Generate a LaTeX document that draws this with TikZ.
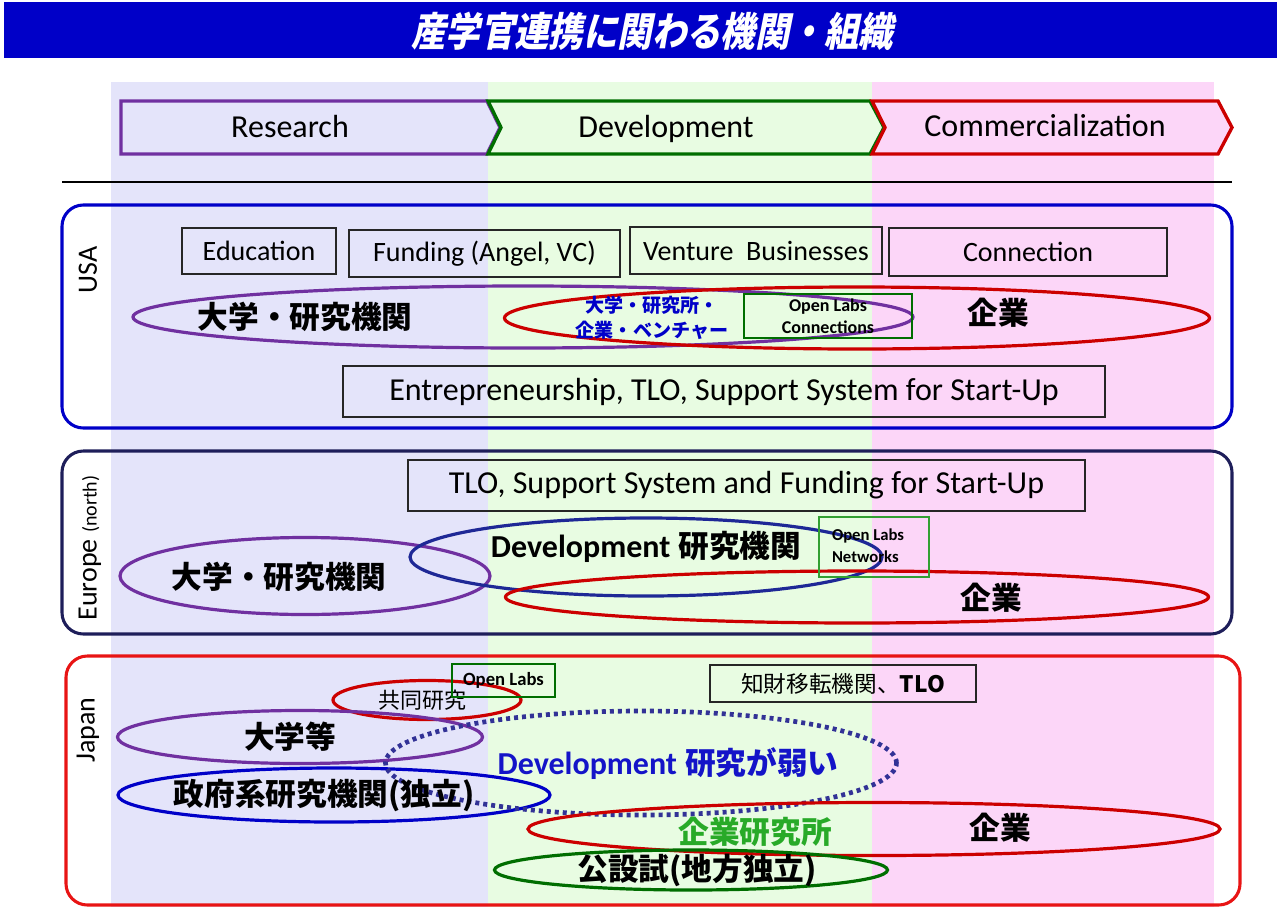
\documentclass[tikz,border=0pt]{standalone}
\usepackage{fontspec}
\setmainfont{Carlito}
\newfontfamily\jp{Noto Sans CJK JP}
\newfontfamily\jpt{Noto Sans CJK JP}[FakeSlant=0.2,FakeStretch=0.86]
\usetikzlibrary{shapes.geometric}

\definecolor{lav}{RGB}{228,228,250}
\definecolor{lgreen}{RGB}{232,252,226}
\definecolor{lpink}{RGB}{252,214,248}
\definecolor{titleblue}{RGB}{0,0,200}
\definecolor{purp}{RGB}{112,48,160}
\definecolor{dgreen}{RGB}{0,110,0}
\definecolor{cred}{RGB}{204,0,0}
\definecolor{jred}{RGB}{232,20,20}
\definecolor{ublue}{RGB}{0,0,200}
\definecolor{navy}{RGB}{30,30,90}
\definecolor{eblue}{RGB}{30,40,150}
\definecolor{dotc}{RGB}{50,50,150}
\definecolor{okgreen}{RGB}{50,160,50}
\definecolor{txtgreen}{RGB}{40,170,40}
\definecolor{txtblue}{RGB}{20,20,200}

\begin{document}
\begin{tikzpicture}[x=0.75pt,y=-0.75pt,
  every node/.style={inner sep=0pt, outer sep=0pt},
  region/.style={draw, line width=2.3pt, rounded corners=16pt},
  ell/.style={ellipse, draw, line width=2.4pt, inner sep=0pt},
  tbox/.style={draw=black!85, line width=0.8pt, rectangle, inner sep=0pt, align=center, font=\fontsize{21}{25}\selectfont},
  chev/.style={line width=2.5pt, line join=miter},
  chevtxt/.style={anchor=base, font=\fontsize{24}{28}\selectfont},
  sidelbl/.style={rotate=90, font=\fontsize{21}{25}\selectfont},
  jpb/.style={font=\jp\bfseries\fontsize{23}{27}\selectfont},
  openlab/.style={rectangle, line width=2.2pt, align=center, font=\bfseries\fontsize{13.5}{16.5}\selectfont}
]
\useasboundingbox (0,0) rectangle (1277,907);

% background columns
\fill[lav] (111,82) rectangle (488,907);
\fill[lgreen] (488,82) rectangle (872,907);
\fill[lpink] (872,82) rectangle (1214,907);

% title
\fill[titleblue] (4,2) rectangle (1277,58);
\node[text=white, font=\jpt\bfseries\fontsize{30}{34}\selectfont] (title) at (652,31) {産学官連携に関わる機関・組織};

% chevrons
\draw[chev, draw=purp, fill=lav] (121,101) -- (487,101) -- (500,127.5) -- (487,154) -- (121,154) -- cycle;
\draw[chev, draw=dgreen, fill=lgreen] (488,101) -- (870,101) -- (884,127.5) -- (870,154) -- (488,154) -- (501,127.5) -- cycle;
\draw[chev, draw=cred, fill=lpink] (872,101) -- (1218,101) -- (1232,127.5) -- (1218,154) -- (872,154) -- (885,127.5) -- cycle;
\node[chevtxt] (research) at (290,137) {Research};
\node[chevtxt] (development) at (666,137) {Development};
\node[chevtxt] (commerc) at (1045,136) {Commercialization};

% separator
\coordinate (sepL) at (62,182);
\coordinate (sepR) at (1232,182);
\draw[line width=1.3pt] (sepL) -- (sepR);

% ===== USA =====
\draw[region, draw=ublue] (62,205) rectangle (1232,428);
\node[sidelbl] (usa) at (88,270) {USA};
\node[tbox, minimum width=115.5pt, minimum height=34.5pt] (edu) at (259,251) {Education};
\node[tbox, minimum width=203.25pt, minimum height=35.25pt] (fund) at (484.5,253.5) {Funding (Angel, VC)};
\node[tbox, minimum width=189pt, minimum height=35.25pt] (venture) at (756,250.5) {Venture\ \ Businesses};
\node[tbox, minimum width=208.5pt, minimum height=36pt] (conn) at (1028,252) {Connection};
\node[ell, draw=purp, minimum width=585pt, minimum height=46.5pt] (usaUniv) at (523,317) {};
\node[ell, draw=cred, minimum width=528.75pt, minimum height=46.5pt] (usaCorp) at (857,318) {};
\node[jpb] (usaUnivT) at (305,317) {大学・研究機関};
\node[jpb] (usaCorpT) at (998,313) {企業};
\node[align=center, text=ublue, font=\jp\bfseries\fontsize{14.3}{18.75}\selectfont] (usaMix) at (652,318) {大学・研究所・\\企業・ベンチャー};
\node[openlab, draw=dgreen, minimum width=126pt, minimum height=33pt] (usaOpen) at (828,316) {Open Labs\\Connections};
\node[tbox, minimum width=571.5pt, minimum height=38.25pt, font=\fontsize{24}{28}\selectfont] (usaEnt) at (724,391.5) {Entrepreneurship, TLO, Support System for Start-Up};

% ===== Europe =====
\draw[region, draw=navy] (62,451) rectangle (1232,634);
\node[sidelbl] (europe) at (90,548) {Europe {\fontsize{15}{17}\selectfont (north)}};
\node[tbox, minimum width=507.75pt, minimum height=38.25pt, font=\fontsize{24}{28}\selectfont] (euTLO) at (746.5,485.5) {TLO, Support System and Funding for Start-Up};
\node[ell, draw=purp, minimum width=277.5pt, minimum height=57.75pt] (euUniv) at (305,576) {};
\node[ell, draw=eblue, minimum width=354pt, minimum height=58.5pt] (euDev) at (646,557) {};
\node[ell, draw=cred, minimum width=527.25pt, minimum height=39pt] (euCorp) at (857,597) {};
\node[jpb] (euUnivT) at (279,577) {大学・研究機関};
\node[jpb] (euDevT) at (646,547) {{\rmfamily\bfseries\fontsize{24}{27}\selectfont Development}\hspace{6pt}研究機関};
\node[jpb] (euCorpT) at (991,598) {企業};
\node[rectangle, draw=okgreen, line width=1.5pt, minimum width=82.5pt, minimum height=45pt] (euOpen) at (874,547) {};
\node[anchor=west, align=left, font=\bfseries\fontsize{12.5}{16.5}\selectfont] (euOpenT) at (832,546) {Open Labs\\Networks};

% ===== Japan =====
\draw[region, draw=jred] (66,656) rectangle (1240,905);
\node[sidelbl] (japan) at (88,730) {Japan};
\node[ell, draw=cred, minimum width=141pt, minimum height=29.25pt] (jpJoint) at (427,700) {};
\node[font=\jp\fontsize{16.5}{20}\selectfont] (jpJointT) at (422,700) {共同研究};
\node[openlab, draw=dgreen, minimum width=77.25pt, minimum height=24.75pt, font=\bfseries\fontsize{14}{16}\selectfont] (jpOpen) at (503.5,680.5) {Open Labs};
\node[tbox, minimum width=199.5pt, minimum height=27.75pt, font=\jp\fontsize{17}{20}\selectfont] (jpTLO) at (843,683.5) {知財移転機関、{\bfseries TLO}};
\node[ell, draw=purp, minimum width=273.75pt, minimum height=39.75pt] (jpUniv) at (300,737) {};
\node[ell, draw=ublue, minimum width=324pt, minimum height=40.5pt] (jpGov) at (334,795) {};
\node[ellipse, draw=dotc, line width=3.5pt, dash pattern=on 3pt off 3pt, minimum width=383.25pt, minimum height=78pt] (jpWeak) at (641,763) {};
\node[ell, draw=cred, minimum width=519pt, minimum height=39.75pt] (jpCorp) at (874,829) {};
\node[ell, draw=dgreen, minimum width=294.75pt, minimum height=30pt] (jpPub) at (691,870) {};
\node[jpb] (jpUnivT) at (290,737) {大学等};
\node[jpb] (jpGovT) at (324,796) {政府系研究機関(独立)};
\node[jpb, text=txtblue] (jpWeakT) at (668,764) {{\rmfamily\bfseries\fontsize{24}{27}\selectfont Development}\hspace{6pt}研究が弱い};
\node[jpb, text=txtgreen] (jpLabT) at (755,832) {企業研究所};
\node[jpb] (jpCorpT) at (1000,828) {企業};
\node[jpb] (jpPubT) at (697,870) {公設試(地方独立)};
\end{tikzpicture}
\end{document}
